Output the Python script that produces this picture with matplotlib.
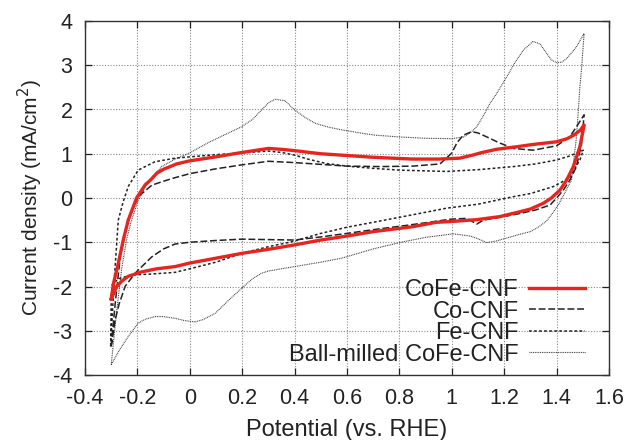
import matplotlib
matplotlib.use("Agg")
import matplotlib.pyplot as plt

plt.rcParams['font.family'] = ['Liberation Sans', 'DejaVu Sans']

# CoFe-CNF (anodic sweep then cathodic sweep)
cofe_x = [-0.30, -0.29, -0.273, -0.254, -0.235, -0.203, -0.17, -0.149, -0.126, -0.1, -0.05, 0.0, 0.1, 0.2, 0.3, 0.35, 0.4, 0.5, 0.6, 0.7, 0.85, 0.95, 1.03, 1.08, 1.11, 1.17, 1.25, 1.31, 1.4, 1.44, 1.465, 1.49, 1.505,
          1.489, 1.464, 1.438, 1.413, 1.38, 1.349, 1.3, 1.26, 1.184, 1.095, 1.0, 0.94, 0.85, 0.7, 0.6, 0.5, 0.4, 0.3, 0.2, 0.1, 0.0, -0.056, -0.126, -0.184, -0.235, -0.26, -0.279, -0.30]
cofe_y = [-2.28, -1.9, -1.48, -0.95, -0.5, 0.0, 0.3, 0.41, 0.56, 0.65, 0.77, 0.84, 0.93, 1.03, 1.12, 1.1, 1.07, 1.0, 0.96, 0.92, 0.88, 0.88, 0.9, 0.97, 1.02, 1.1, 1.16, 1.21, 1.27, 1.34, 1.42, 1.53, 1.65,
          1.16, 0.71, 0.4, 0.18, 0.0, -0.12, -0.25, -0.31, -0.42, -0.49, -0.53, -0.55, -0.65, -0.76, -0.86, -0.95, -1.06, -1.16, -1.25, -1.36, -1.47, -1.55, -1.6, -1.67, -1.77, -1.88, -2.0, -2.28]

# Co-CNF
co_x = [-0.30, -0.285, -0.265, -0.235, -0.197, -0.145, -0.1, -0.056, 0.0, 0.1, 0.2, 0.3, 0.4, 0.5, 0.6, 0.726, 0.85, 0.955, 0.999, 1.02, 1.044, 1.076, 1.1, 1.13, 1.18, 1.235, 1.31, 1.4, 1.45, 1.476, 1.505,
        1.495, 1.475, 1.451, 1.426, 1.4, 1.375, 1.32, 1.26, 1.19, 1.12, 1.095, 1.075, 1.057, 0.993, 0.9, 0.8, 0.707, 0.6, 0.5, 0.4, 0.3, 0.198, 0.1, 0.0, -0.056, -0.1, -0.145, -0.209, -0.247, -0.27, -0.285, -0.30]
co_y = [-3.35, -2.4, -1.3, -0.5, 0.03, 0.29, 0.38, 0.46, 0.55, 0.66, 0.75, 0.83, 0.8, 0.76, 0.72, 0.71, 0.72, 0.77, 1.01, 1.25, 1.42, 1.5, 1.47, 1.39, 1.25, 1.12, 1.08, 1.18, 1.38, 1.61, 1.88,
        1.2, 0.7, 0.41, 0.18, 0.0, -0.16, -0.27, -0.35, -0.43, -0.5, -0.59, -0.52, -0.46, -0.48, -0.56, -0.64, -0.71, -0.8, -0.88, -0.95, -0.94, -0.93, -0.96, -1.0, -1.04, -1.15, -1.33, -1.7, -2.0, -2.4, -2.76, -3.35]

# Fe-CNF
fe_x = [-0.302, -0.29, -0.273, -0.255, -0.235, -0.197, -0.133, -0.056, 0.0, 0.1, 0.2, 0.3, 0.35, 0.4, 0.45, 0.52, 0.6, 0.7, 0.8, 0.98, 1.1, 1.235, 1.32, 1.4, 1.45, 1.502,
        1.489, 1.451, 1.42, 1.388, 1.3, 1.235, 1.1, 0.98, 0.85, 0.726, 0.6, 0.5, 0.389, 0.3, 0.198, 0.1, 0.0, -0.056, -0.15, -0.222, -0.27, -0.296, -0.30, -0.302]
fe_y = [-3.35, -2.0, -0.5, -0.1, 0.26, 0.63, 0.82, 0.9, 0.93, 0.98, 1.02, 1.06, 1.03, 0.97, 0.88, 0.78, 0.72, 0.67, 0.63, 0.6, 0.64, 0.71, 0.77, 0.86, 0.95, 1.08,
        0.86, 0.48, 0.36, 0.26, 0.1, 0.03, -0.14, -0.23, -0.38, -0.52, -0.66, -0.8, -0.99, -1.1, -1.25, -1.45, -1.6, -1.68, -1.72, -1.74, -1.82, -1.95, -2.3, -3.35]

# Ball-milled CoFe-CNF
bm_x = [-0.30, -0.28, -0.26, -0.24, -0.222, -0.2, -0.17, -0.14, -0.107, -0.056, 0.0, 0.07, 0.13, 0.198, 0.24, 0.274, 0.3, 0.325, 0.363, 0.4, 0.44, 0.478, 0.53, 0.58, 0.65, 0.707, 0.8, 0.9, 1.0, 1.044, 1.07, 1.095, 1.12, 1.146, 1.17, 1.21, 1.24, 1.273, 1.31, 1.337, 1.362, 1.38, 1.4, 1.42, 1.438, 1.46, 1.476, 1.505,
        1.495, 1.489, 1.476, 1.457, 1.43, 1.41, 1.39, 1.362, 1.33, 1.3, 1.26, 1.2, 1.171, 1.133, 1.1, 1.07, 1.006, 0.9, 0.815, 0.7, 0.58, 0.5, 0.4, 0.3, 0.274, 0.24, 0.198, 0.15, 0.096, 0.05, 0.02, -0.02, -0.056, -0.1, -0.133, -0.17, -0.197, -0.235, -0.27, -0.30]
bm_y = [-3.77, -2.6, -1.6, -0.9, -0.5, -0.1, 0.26, 0.5, 0.71, 0.88, 1.02, 1.25, 1.42, 1.61, 1.78, 1.99, 2.15, 2.23, 2.2, 1.99, 1.82, 1.69, 1.6, 1.54, 1.47, 1.42, 1.38, 1.35, 1.34, 1.38, 1.47, 1.61, 1.85, 2.14, 2.35, 2.74, 3.05, 3.34, 3.54, 3.48, 3.27, 3.12, 3.06, 3.07, 3.15, 3.3, 3.42, 3.72,
        2.9, 2.52, 1.39, 0.41, 0.1, -0.12, -0.3, -0.52, -0.66, -0.76, -0.82, -0.92, -0.97, -1.01, -0.92, -0.86, -0.81, -0.89, -0.99, -1.15, -1.36, -1.45, -1.55, -1.65, -1.7, -1.82, -2.04, -2.3, -2.61, -2.75, -2.8, -2.77, -2.72, -2.68, -2.68, -2.74, -2.83, -3.13, -3.45, -3.77]

x_ticks = [-0.4, -0.2, 0, 0.2, 0.4, 0.6, 0.8, 1, 1.2, 1.4, 1.6]
x_tick_labels = ['-0.4', '-0.2', '0', '0.2', '0.4', '0.6', '0.8', '1', '1.2', '1.4', '1.6']
y_ticks = [-4, -3, -2, -1, 0, 1, 2, 3, 4]
y_tick_labels = ['-4', '-3', '-2', '-1', '0', '1', '2', '3', '4']

fig = plt.figure(figsize=(6.28, 4.4), dpi=100)
ax = fig.add_axes([85/628, 1-375/440, (609-85)/628, (375-21)/440])

ax.plot(cofe_x, cofe_y, color='#e5251f', lw=2.4, label='CoFe-CNF', zorder=5)
ax.plot(co_x, co_y, color='#222222', lw=1.1, dashes=(4.5, 1.8), label='Co-CNF', zorder=4)
ax.plot(fe_x, fe_y, color='#222222', lw=1.1, dashes=(1.8, 1.5), label='Fe-CNF', zorder=4)
ax.plot(bm_x, bm_y, color='#333333', lw=0.8, dashes=(0.8, 0.8), label='Ball-milled CoFe-CNF', zorder=3)

ax.set_xlim(-0.4, 1.6)
ax.set_ylim(-4, 4)
ax.set_xticks(x_ticks)
ax.set_xticklabels(x_tick_labels)
ax.set_yticks(y_ticks)
ax.set_yticklabels(y_tick_labels)
ax.tick_params(direction='in', length=5, width=0.9, top=True, right=True, labelsize=15.5, colors='#222222')
ax.tick_params(axis='x', pad=9.5)
ax.tick_params(axis='y', pad=9)
ax.grid(True, color='#888888', lw=0.8, linestyle=(0, (1, 1.5)))
for s in ax.spines.values():
    s.set_linewidth(1.0)
    s.set_color('#333333')

ax.set_xlabel('Potential (vs. RHE)', fontsize=17, color='#222222', labelpad=7)
ax.set_ylabel('Current density (mA/cm$^2$)', fontsize=15, color='#222222', labelpad=6)

leg = ax.legend(loc='lower right', frameon=False, markerfirst=False, fontsize=17,
                handlelength=2.35, labelspacing=-0.02, borderaxespad=0.0, handletextpad=0.45,
                bbox_to_anchor=(0.972, 0.0))
for t in leg.get_texts():
    t.set_ha('right')
    t.set_color('#222222')
ax.set_axisbelow(True)

fig.savefig('out.png', dpi=100)
